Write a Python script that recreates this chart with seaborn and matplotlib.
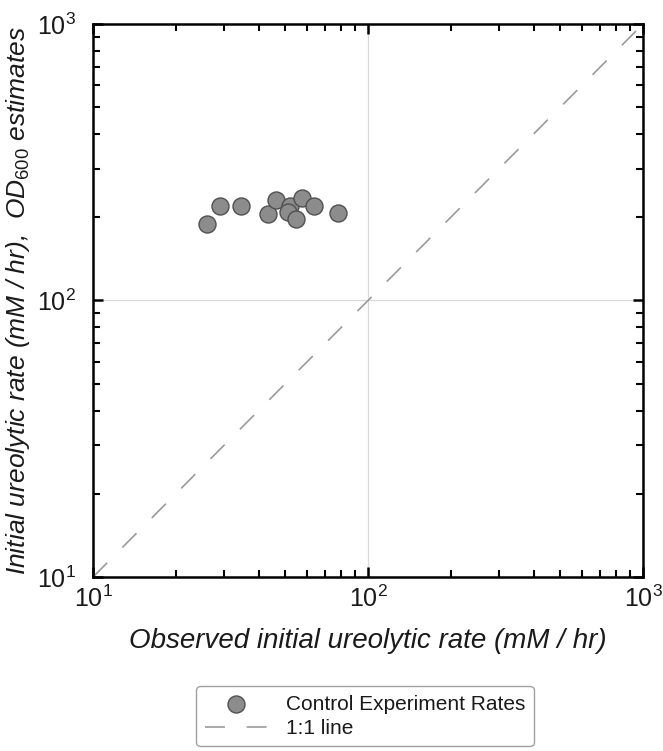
import numpy as np
import pandas as pd
import matplotlib
matplotlib.use("Agg")
import matplotlib.pyplot as plt
import seaborn as sns
from matplotlib.ticker import LogLocator, NullFormatter

# Data
observed_rate = [25.9, 29.0, 34.5, 43.3, 46.2, 52.0, 51.3, 57.7, 63.6, 54.7, 77.8]
estimated_rate = [189, 219.6, 220, 205.5, 231, 219.6, 209.6, 235.4, 219.6, 196.6, 206.7]
one_to_one = [10, 1000]
series_labels = ["Control Experiment Rates", "1:1 line"]

sns.set_theme(style="white")
plt.rcParams['font.family'] = ['Liberation Sans', 'DejaVu Sans']
plt.rcParams['mathtext.fontset'] = 'custom'
plt.rcParams['mathtext.rm'] = 'Liberation Sans'
plt.rcParams['mathtext.it'] = 'Liberation Sans:italic'
plt.rcParams['mathtext.bf'] = 'Liberation Sans:bold'
plt.rcParams['text.color'] = '#1a1a1a'
plt.rcParams['axes.labelcolor'] = '#1a1a1a'
plt.rcParams['xtick.color'] = '#1a1a1a'
plt.rcParams['ytick.color'] = '#1a1a1a'

fig = plt.figure(figsize=(6.63, 7.51), dpi=100)
ax = fig.add_axes([0.1403, 0.2317, 0.8296, 0.7364])

df = pd.DataFrame({"obs": observed_rate, "est": estimated_rate})
line_df = pd.DataFrame({"x": one_to_one, "y": one_to_one})

sns.scatterplot(data=df, x="obs", y="est", ax=ax, s=150, color="#8c8c8c",
                edgecolor="#505050", linewidth=1.0, label=series_labels[0], zorder=3)
sns.lineplot(data=line_df, x="x", y="y", ax=ax, color="#9a9a9a", linewidth=1.2,
             dashes=False, label=series_labels[1], zorder=2)
ax.lines[-1].set_dashes([12, 13])

ax.set_xscale("log")
ax.set_yscale("log")
ax.set_xlim(10, 1000)
ax.set_ylim(10, 1000)

ax.grid(True, which="major", color="#d9d9d9", linewidth=0.9)
ax.set_axisbelow(True)

for sp in ax.spines.values():
    sp.set_visible(True)
    sp.set_color("black")
    sp.set_linewidth(1.8)

ax.xaxis.set_major_locator(LogLocator(base=10, numticks=5))
ax.yaxis.set_major_locator(LogLocator(base=10, numticks=5))
ax.xaxis.set_minor_locator(LogLocator(base=10, subs=np.arange(2, 10), numticks=20))
ax.yaxis.set_minor_locator(LogLocator(base=10, subs=np.arange(2, 10), numticks=20))
ax.xaxis.set_minor_formatter(NullFormatter())
ax.yaxis.set_minor_formatter(NullFormatter())

ax.tick_params(which="both", direction="in", top=True, right=True, bottom=True, left=True,
               color="black")
ax.tick_params(which="major", length=7, width=1.8, labelsize=18)
ax.tick_params(axis="x", which="major", pad=6)
ax.tick_params(axis="y", which="major", pad=12)
ax.tick_params(which="minor", length=5, width=1.5)

ax.set_xlabel("Observed initial ureolytic rate (mM / hr)", fontsize=20, style="italic",
              labelpad=12)
ax.set_ylabel(r"Initial ureolytic rate (mM / hr),  $OD_{600}$ estimates", fontsize=19,
              style="italic", labelpad=4)

ax.get_legend().remove()
handles, labels = ax.get_legend_handles_labels()
leg = fig.legend(handles, labels, loc="upper center", bbox_to_anchor=(0.5505, 0.0945),
                 fontsize=15, frameon=True, fancybox=True, edgecolor="#888888",
                 handlelength=3.0, borderpad=0.4, labelspacing=0.25, handletextpad=0.9,
                 borderaxespad=0.3)
leg.get_frame().set_linewidth(1.0)

fig.savefig("out.png", dpi=100)
